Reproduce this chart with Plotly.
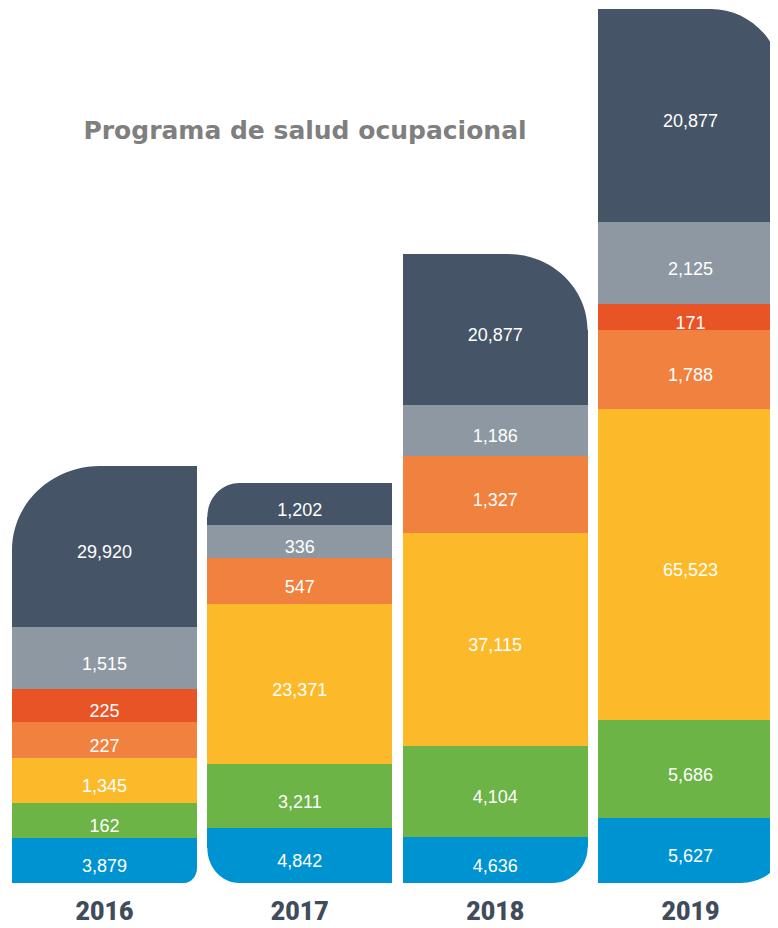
import plotly.graph_objects as go

# ---------------- data ----------------
years = ["2016", "2017", "2018", "2019"]

# values shown in each segment (None = segment absent)
val_blue = [3879, 4842, 4636, 5627]
val_green = [162, 3211, 4104, 5686]
val_yellow = [1345, 23371, 37115, 65523]
val_orange = [227, 547, 1327, 1788]
val_red = [225, None, None, 171]
val_gray = [1515, 336, 1186, 2125]
val_dark = [29920, 1202, 20877, 20877]

# drawn height of each segment (infographic, not to scale)
h_blue = [45, 55, 46, 65]
h_green = [35, 64, 91, 98]
h_yellow = [45, 160, 213, 311]
h_orange = [36, 46, 77, 79]
h_red = [33, None, None, 26]
h_gray = [62, 33, 51, 82]
h_dark = [161, 42, 151, 213]

series = [
    ("Azul", val_blue, h_blue, "#0093d1"),
    ("Verde", val_green, h_green, "#6bb445"),
    ("Amarillo", val_yellow, h_yellow, "#fcba2b"),
    ("Naranja", val_orange, h_orange, "#f0813e"),
    ("Rojo", val_red, h_red, "#e85426"),
    ("Gris", val_gray, h_gray, "#8e98a2"),
    ("Oscuro", val_dark, h_dark, "#465467"),
]

# ---------------- layout constants ----------------
# the page body adds an 8px margin, so the figure is 8px smaller each way
W, H = 770, 920
MB = 45
X_RANGE = [-0.494, 3.448]
BAR_W = 0.947
PX_PER_X = W / (X_RANGE[1] - X_RANGE[0])
LABEL_DROP = 7  # labels sit a little below segment centre

# rounded corners per bar: (corner, rx px, ry px)
corners = {
    0: [("tl", 88, 84), ("br", 13, 15)],
    1: [("tl", 32, 34), ("bl", 32, 35)],
    2: [("tr", 80, 76), ("br", 35, 36)],
    3: [("tr", 72, 76), ("br", 42, 36)],
}

fig = go.Figure()
lab_x, lab_y, lab_t = [], [], []
base = [0] * len(years)
for name, vals, hs, color in series:
    fig.add_trace(go.Bar(
        x=list(range(len(years))),
        y=hs,
        name=name,
        width=BAR_W,
        marker=dict(color=color, line=dict(width=0)),
        textposition="none",
        hoverinfo="skip",
        showlegend=False,
    ))
    for i, (v, h) in enumerate(zip(vals, hs)):
        if h is None:
            continue
        if v is not None:
            lab_x.append(i)
            lab_y.append(base[i] + h / 2 - LABEL_DROP)
            lab_t.append(f"{v:,}")
        base[i] += h

fig.add_trace(go.Scatter(
    x=lab_x, y=lab_y, text=lab_t, mode="text",
    textposition="middle center",
    textfont=dict(color="white", size=18, family="Liberation Sans, Arial, sans-serif"),
    hoverinfo="skip", showlegend=False,
))

# white masks to carve rounded corners
K = 0.5523
shapes = []
for i in range(len(years)):
    top = base[i]
    left, right = i - BAR_W / 2, i + BAR_W / 2
    for c, rxp, ryp in corners[i]:
        rx = rxp / PX_PER_X
        ry = ryp
        cx = left if c[1] == "l" else right
        cy = top if c[0] == "t" else 0
        sx = 1 if c[1] == "l" else -1
        sy = -1 if c[0] == "t" else 1
        ax, ay = cx + sx * rx, cy
        bx, by = cx, cy + sy * ry
        p1x, p1y = cx + sx * rx * (1 - K), cy
        p2x, p2y = cx, cy + sy * ry * (1 - K)
        ox, oy = cx - sx * 0.01, cy - sy * 2
        path = (f"M {ox},{oy} L {ax},{oy} L {ax},{ay} "
                f"C {p1x},{p1y} {p2x},{p2y} {bx},{by} L {ox},{by} Z")
        shapes.append(dict(type="path", path=path, xref="x", yref="y",
                           fillcolor="white", line=dict(width=0), layer="above"))

fig.update_layout(
    width=W, height=H,
    margin=dict(l=0, r=0, t=0, b=MB),
    barmode="stack",
    plot_bgcolor="white", paper_bgcolor="white",
    shapes=shapes,
    title=dict(
        text="<b>Programa de salud ocupacional</b>",
        x=297 / W, y=1 - 122 / H, xanchor="center", yanchor="middle",
        xref="paper", yref="container",
        font=dict(family="DejaVu Sans, sans-serif", size=25, color="#7f7f7f"),
    ),
    xaxis=dict(
        range=X_RANGE, tickmode="array", tickvals=list(range(len(years))),
        ticktext=years, showgrid=False, zeroline=False, showline=False,
        ticks="", ticklabelstandoff=11,
        tickfont=dict(family="Roboto, sans-serif", size=25, color="#404b5b", weight=900),
        fixedrange=True,
    ),
    yaxis=dict(range=[0, H - MB], visible=False, fixedrange=True),
)

fig.write_html("out.html")
